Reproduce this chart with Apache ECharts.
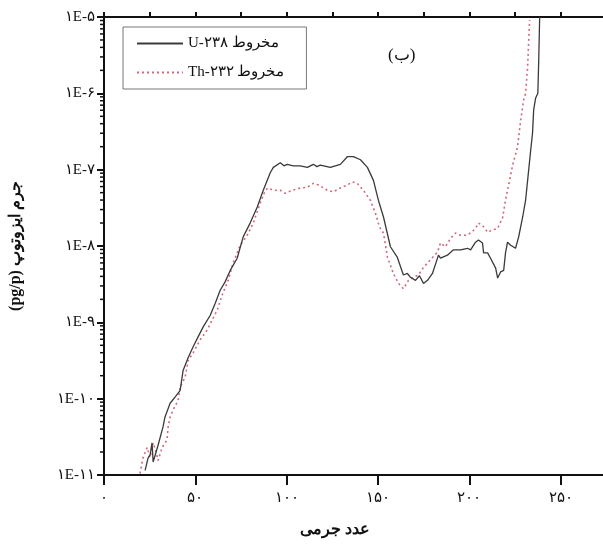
<!DOCTYPE html>
<html>
<head>
<meta charset="utf-8">
<script src="https://cdn.jsdelivr.net/npm/echarts@6/dist/echarts.min.js"></script>
<style>
html,body{margin:0;padding:0;background:#fff;}
#chart{width:603px;height:551px;}
</style>
</head>
<body>
<div id="chart"></div>
<script>
// [mass number, log10 of isotope mass (pg/p)]
const u238 = [[22.5,-10.94],[24.1,-10.78],[25.2,-10.74],[26.3,-10.58],[26.9,-10.83],[29.6,-10.61],[32.3,-10.37],[33.4,-10.24],[36.2,-10.06],[38.9,-9.98],[41.7,-9.89],[43.3,-9.63],[46.1,-9.46],[48.8,-9.32],[51.5,-9.19],[54.3,-9.06],[58.1,-8.91],[60.9,-8.75],[63.6,-8.58],[66.3,-8.47],[69.1,-8.32],[72.9,-8.16],[76.2,-7.88],[80.0,-7.70],[83.9,-7.49],[87.2,-7.27],[91.0,-7.04],[92.7,-6.97],[96.5,-6.91],[98.5,-6.95],[100.3,-6.93],[103.6,-6.95],[107.5,-6.95],[111.3,-6.97],[114.6,-6.93],[116.5,-6.96],[118.4,-6.94],[123.9,-6.97],[129.4,-6.93],[133.2,-6.83],[136.5,-6.83],[140.4,-6.87],[144.2,-6.97],[147.5,-7.14],[150.2,-7.40],[153.0,-7.62],[156.8,-8.01],[160.6,-8.15],[163.9,-8.38],[166.1,-8.36],[167.8,-8.41],[170.5,-8.45],[172.7,-8.39],[174.9,-8.49],[177.1,-8.45],[179.8,-8.36],[183.1,-8.12],[184.2,-8.16],[188.0,-8.12],[191.3,-8.05],[195.2,-8.05],[199.0,-8.03],[200.7,-8.05],[203.4,-7.95],[205.0,-7.92],[207.2,-7.96],[207.8,-8.09],[210.0,-8.09],[211.6,-8.16],[214.4,-8.29],[215.5,-8.42],[217.1,-8.34],[218.8,-8.32],[219.8,-8.09],[220.9,-7.95],[222.6,-7.99],[225.3,-8.03],[227.0,-7.88],[229.2,-7.62],[230.8,-7.40],[233.6,-6.74],[234.6,-6.52],[235.2,-6.22],[236.3,-6.06],[237.5,-6.00],[238.0,-5.55],[238.5,-5.00]];
const th232 = [[19.7,-10.98],[21.4,-10.77],[23.6,-10.64],[25.2,-10.77],[26.9,-10.58],[28.5,-10.70],[29.6,-10.81],[31.8,-10.64],[34.5,-10.54],[35.1,-10.37],[36.2,-10.24],[37.8,-10.15],[40.6,-10.02],[41.7,-9.85],[44.4,-9.72],[46.1,-9.50],[48.8,-9.40],[52.6,-9.23],[56.5,-9.10],[59.2,-8.97],[62.0,-8.84],[64.7,-8.64],[68.0,-8.45],[70.7,-8.22],[74.6,-7.99],[78.4,-7.86],[81.7,-7.70],[85.5,-7.44],[88.3,-7.27],[89.9,-7.24],[92.7,-7.27],[96.5,-7.27],[99.2,-7.31],[103.1,-7.27],[107.5,-7.24],[111.3,-7.23],[114.6,-7.18],[117.3,-7.20],[122.3,-7.27],[125.5,-7.29],[129.4,-7.24],[133.2,-7.20],[136.0,-7.16],[138.7,-7.18],[142.0,-7.27],[145.8,-7.40],[148.6,-7.57],[150.8,-7.75],[153.0,-7.83],[155.2,-8.15],[158.4,-8.36],[161.2,-8.49],[163.9,-8.56],[166.7,-8.45],[169.4,-8.41],[172.1,-8.38],[174.9,-8.28],[178.7,-8.18],[182.6,-8.08],[184.2,-7.96],[186.9,-8.01],[189.7,-7.90],[192.4,-7.83],[195.2,-7.86],[197.9,-7.86],[200.7,-7.83],[203.4,-7.77],[205.0,-7.70],[207.2,-7.73],[210.0,-7.82],[212.7,-7.79],[215.5,-7.77],[218.2,-7.63],[219.8,-7.40],[221.5,-7.20],[223.7,-6.94],[226.4,-6.70],[228.1,-6.35],[229.7,-6.09],[230.8,-6.00],[231.9,-5.66],[232.5,-5.30],[233.0,-5.04]];
const xTickValues = [0, 50, 100, 150, 200, 250];
const yDecades = [-11, -10, -9, -8, -7, -6, -5];
const seriesNames = ['U-۲۳۸ مخروط', 'Th-۲۳۲ مخروط'];
const xTitle = 'عدد جرمی';
const yTitle = '(pg/p) جرم ایزوتوپ';
const panelLabel = '(ب)';

const fa = s => String(s).replace(/\d/g, d => '۰۱۲۳۴۵۶۷۸۹'[d]);
const toPoints = arr => arr.map(p => [p[0], Math.pow(10, p[1])]);
const minorTicks = [];
yDecades.slice(0, -1).forEach(e => { for (let k = 2; k <= 9; k++) minorTicks.push([0, k * Math.pow(10, e)]); });

const serif = '"Liberation Serif", "DejaVu Serif", serif';
const chart = echarts.init(document.getElementById('chart'));
chart.setOption({
  animation: false,
  backgroundColor: '#fff',
  grid: { left: 104, top: 17, width: 506, height: 458, outerBoundsMode: 'none', containLabel: false,
    show: true, borderColor: '#111', borderWidth: 2, backgroundColor: 'transparent' },
  title: { text: panelLabel, left: 383, top: 42, textStyle: { fontFamily: serif, fontSize: 17, fontWeight: 'normal', color: '#111' } },
  legend: {
    data: seriesNames, orient: 'vertical', left: 123, top: 27,
    borderColor: '#777', borderWidth: 1, padding: [9, 22, 9, 13],
    itemWidth: 46, itemHeight: 14, itemGap: 14,
    itemStyle: { opacity: 0 },
    textStyle: { fontFamily: serif, fontSize: 15, color: '#111' }
  },
  xAxis: [
    {
      type: 'value', min: 0, max: 277, interval: 50,
      axisLine: { lineStyle: { color: '#111', width: 2 } },
      axisTick: { length: 10, lineStyle: { color: '#111', width: 2 } },
      axisLabel: { margin: 16, fontSize: 15, color: '#111', fontFamily: serif,
        formatter: v => (xTickValues.indexOf(v) >= 0 ? fa(v) : '') },
      splitLine: { show: false }
    },
    {
      type: 'value', min: 0, max: 277, interval: 25, gridIndex: 0,
      axisLine: { show: false },
      axisTick: { length: 5, lineStyle: { color: '#111', width: 2 } },
      axisLabel: { show: false }, splitLine: { show: false }
    }
  ],
  yAxis: {
    type: 'log', logBase: 10, min: 1e-11, max: 1e-5,
    name: yTitle, nameLocation: 'middle', nameGap: 80, nameRotate: 90,
    nameTextStyle: { fontSize: 16, fontWeight: 'bold', color: '#111', fontFamily: serif },
    axisLine: { show: true, lineStyle: { color: '#111', width: 2 } },
    axisTick: { show: true, length: 7, lineStyle: { color: '#111', width: 2 } },
    axisLabel: { margin: 9, fontSize: 15, color: '#111', fontFamily: serif,
      formatter: v => '۱E-' + fa(-Math.round(Math.log10(v))) },
    splitLine: { show: false }
  },
  graphic: [
    { type: 'text', left: 300, top: 522, style: { text: xTitle, fontSize: 16, fontWeight: 'bold', fill: '#111', fontFamily: serif } }
  ],
  series: [
    { name: seriesNames[0], type: 'line', data: toPoints(u238), showSymbol: false, symbol: 'none',
      lineStyle: { color: '#3a3a3a', width: 1.3 }, itemStyle: { color: '#3a3a3a' }, z: 3 },
    { name: seriesNames[1], type: 'line', data: toPoints(th232), showSymbol: false, symbol: 'none',
      lineStyle: { color: '#d06a7a', width: 1.6, type: [2, 3] }, itemStyle: { color: '#d06a7a' }, z: 2 },
    { type: 'custom', data: minorTicks, clip: false, silent: true, z: 5,
      renderItem: (params, api) => {
        const p = api.coord([0, api.value(1)]);
        return { type: 'line', shape: { x1: p[0] - 4, y1: p[1], x2: p[0], y2: p[1] }, style: { stroke: '#111', lineWidth: 1.5 } };
      } }
  ]
});
</script>
</body>
</html>
